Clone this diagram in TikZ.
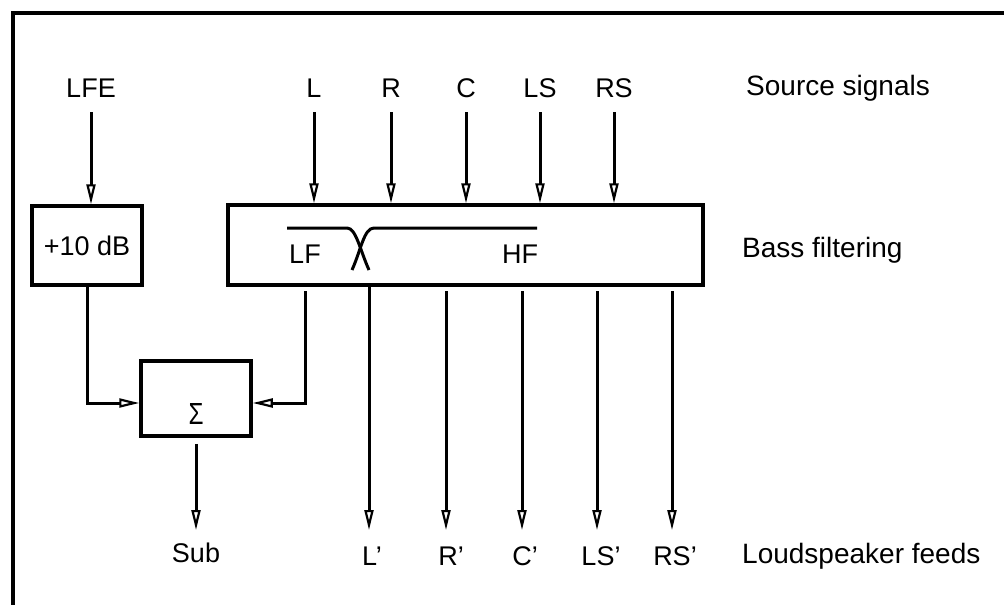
\documentclass[tikz,border=0pt]{standalone}
\usepackage{fontspec}
\setmainfont{Liberation Sans}
\usetikzlibrary{arrows.meta}
\begin{document}
\begin{tikzpicture}[x=1pt,y=-1pt,
  font=\fontsize{27pt}{31pt}\selectfont,
  every node/.style={inner sep=0pt},
  blk/.style={draw, line width=3.5pt, rectangle, inner sep=0pt},
  wire/.style={line width=3pt},
  arr/.style={wire, -{Triangle[open, length=20pt, width=9pt, line width=2.2pt]}},
  side/.style={anchor=west, font=\fontsize{28pt}{32pt}\selectfont},
  lbl/.style={anchor=center}]
\useasboundingbox (0,0) rectangle (1004,605);
% frame
\draw[line width=3.5pt] (13,605) -- (13,13) -- (1004,13);

% coordinates
\coordinate (srctop) at (0,112);
\coordinate (outtop) at (0,291);
\coordinate (otip) at (0,530);
\coordinate (sigin) at (0,403);

% source labels
\node[lbl] (LFE) at (91,88) {LFE};
\node[lbl] (L) at (314,88) {L};
\node[lbl] (R) at (391,88) {R};
\node[lbl] (C) at (466,88) {C};
\node[lbl] (LS) at (540,88) {LS};
\node[lbl] (RS) at (614,88) {RS};
\node[side] (src) at (746,88) {Source signals};

% blocks
\node[blk, minimum width=110pt, minimum height=79pt] (gain) at (87,245.5) {+10 dB};
\node[blk, minimum width=475pt, minimum height=80pt] (bf) at (465.5,245) {};
\node[side] (bass) at (742,250) {Bass filtering};
\node[blk, minimum width=110pt, minimum height=75pt] (sig) at (196,398.5) {};
\node (sigma) at (196,414) {\resizebox{15pt}{21pt}{Σ}};

% filter curves
\node (LF) at (305,254) {LF};
\node (HF) at (520,254) {HF};
\draw[line width=3pt] (287,228) -- (347,228) .. controls (356,228) and (360,250) .. (369,270);
\draw[line width=3pt] (352,270) .. controls (361,250) and (364,228) .. (374,228) -- (537,228);

% inputs
\draw[arr] (LFE |- srctop) -- (LFE |- gain.north);
\foreach \n in {L,R,C,LS,RS}{
  \draw[arr] (\n |- srctop) -- (\n |- bf.north);
}

% LFE path to sum
\draw[arr] (gain.south) |- (sig.west |- sigin);
\draw[arr] (LF |- outtop) |- (sig.east |- sigin);

% sub output
\node (sub) at (196,553) {Sub};
\draw[arr] (sig.south) ++(0,6) -- (sub.north |- otip);

% outputs
\coordinate (oL) at (369,285);
\coordinate (oR) at (446,291);
\coordinate (oC) at (522,291);
\coordinate (oLS) at (597,291);
\coordinate (oRS) at (672,291);
\node (Lp) at (372,556) {L'};
\node (Rp) at (451,556) {R'};
\node (Cp) at (525,556) {C'};
\node (LSp) at (601,556) {LS'};
\node (RSp) at (675,556) {RS'};
\foreach \n in {oL,oR,oC,oLS,oRS}{
  \draw[arr] (\n) -- (\n |- otip);
}
\node[side] (feeds) at (742,556) {Loudspeaker feeds};
\end{tikzpicture}
\end{document}
